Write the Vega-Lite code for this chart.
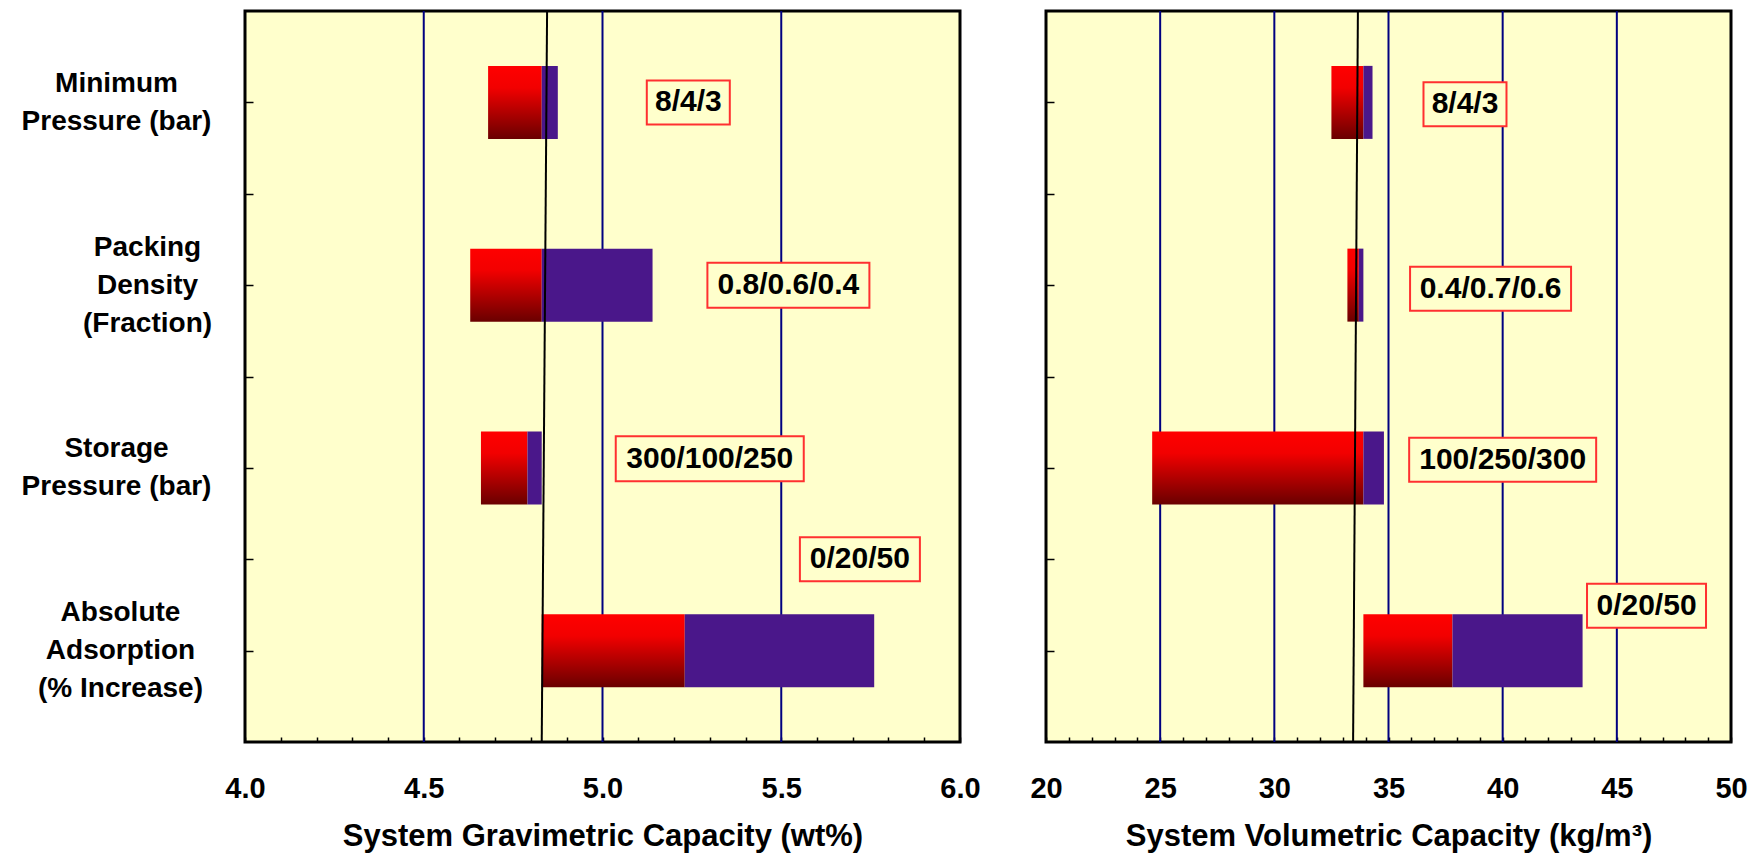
{
  "$schema": "https://vega.github.io/schema/vega-lite/v6.json",
  "background": "white",
  "padding": {"left": 19, "top": 8, "right": 5, "bottom": 5},
  "bounds": "flush",
  "spacing": 86,
  "resolve": {"scale": {"shape": "independent"}},
  "config": {
    "font": "Liberation Sans",
    "view": {"fill": "#FFFFCC", "stroke": "#000000", "strokeWidth": 3},
    "axis": {
      "labelFont": "Liberation Sans", "labelFontWeight": "bold", "labelColor": "#000000",
      "titleFont": "Liberation Sans", "titleFontWeight": "bold", "titleColor": "#000000",
      "domain": false, "grid": false, "tickColor": "#000000", "tickWidth": 1.5,
      "labelFlush": false, "labelOverlap": false, "labelLimit": 0
    }
  },
  "datasets": {
    "gravGrid": [{"x": 4.5, "y": 0, "y2": 8}, {"x": 5.0, "y": 0, "y2": 8}, {"x": 5.5, "y": 0, "y2": 8}],
    "gravBars": [
      {"factor": "Minimum Pressure", "seg": "red", "x": 4.68, "x2": 4.83, "y": 1},
      {"factor": "Minimum Pressure", "seg": "purple", "x": 4.83, "x2": 4.875, "y": 1},
      {"factor": "Packing Density", "seg": "red", "x": 4.63, "x2": 4.83, "y": 3},
      {"factor": "Packing Density", "seg": "purple", "x": 4.83, "x2": 5.14, "y": 3},
      {"factor": "Storage Pressure", "seg": "red", "x": 4.66, "x2": 4.79, "y": 5},
      {"factor": "Storage Pressure", "seg": "purple", "x": 4.79, "x2": 4.83, "y": 5},
      {"factor": "Absolute Adsorption", "seg": "red", "x": 4.83, "x2": 5.23, "y": 7},
      {"factor": "Absolute Adsorption", "seg": "purple", "x": 5.23, "x2": 5.76, "y": 7}
    ],
    "gravBase": [{"x": 4.845, "y": 0, "x2": 4.83, "y2": 8}],
    "gravLabels": [
      {"label": "8/4/3", "x": 5.24, "y": 1.0},
      {"label": "0.8/0.6/0.4", "x": 5.52, "y": 3.0},
      {"label": "300/100/250", "x": 5.30, "y": 4.9},
      {"label": "0/20/50", "x": 5.72, "y": 6.0}
    ],
    "volGrid": [{"x": 25, "y": 0, "y2": 8}, {"x": 30, "y": 0, "y2": 8}, {"x": 35, "y": 0, "y2": 8}, {"x": 40, "y": 0, "y2": 8}, {"x": 45, "y": 0, "y2": 8}],
    "volBars": [
      {"factor": "Minimum Pressure", "seg": "red", "x": 32.5, "x2": 33.9, "y": 1},
      {"factor": "Minimum Pressure", "seg": "purple", "x": 33.9, "x2": 34.3, "y": 1},
      {"factor": "Packing Density", "seg": "red", "x": 33.2, "x2": 33.7, "y": 3},
      {"factor": "Packing Density", "seg": "purple", "x": 33.7, "x2": 33.9, "y": 3},
      {"factor": "Storage Pressure", "seg": "red", "x": 24.65, "x2": 33.9, "y": 5},
      {"factor": "Storage Pressure", "seg": "purple", "x": 33.9, "x2": 34.8, "y": 5},
      {"factor": "Absolute Adsorption", "seg": "red", "x": 33.9, "x2": 37.8, "y": 7},
      {"factor": "Absolute Adsorption", "seg": "purple", "x": 37.8, "x2": 43.5, "y": 7}
    ],
    "volBase": [{"x": 33.66, "y": 0, "x2": 33.45, "y2": 8}],
    "volLabels": [
      {"label": "8/4/3", "x": 38.35, "y": 1.02},
      {"label": "0.4/0.7/0.6", "x": 39.47, "y": 3.04},
      {"label": "100/250/300", "x": 40.0, "y": 4.91},
      {"label": "0/20/50", "x": 46.3, "y": 6.51}
    ]
  },
  "hconcat": [
    {
      "width": 715,
      "height": 731,
      "encoding": {
        "x": {
          "field": "x", "type": "quantitative",
          "scale": {"domain": [4, 6], "nice": false, "zero": false, "padding": 0},
          "axis": {
            "title": "System Gravimetric Capacity (wt%)",
            "values": [4.0, 4.1, 4.2, 4.3, 4.4, 4.5, 4.6, 4.7, 4.8, 4.9, 5.0, 5.1, 5.2, 5.3, 5.4, 5.5, 5.6, 5.7, 5.8, 5.9, 6.0],
            "labelExpr": "abs(datum.value*2 - round(datum.value*2)) < 0.001 ? format(datum.value, '.1f') : ''",
            "tickSize": -5, "labelPadding": 37, "labelFontSize": 29, "titleFontSize": 31, "titlePadding": 18
          }
        },
        "y": {
          "field": "y", "type": "quantitative",
          "scale": {"domain": [0, 8], "nice": false, "zero": false, "reverse": true, "padding": 0},
          "axis": {
            "title": null,
            "values": [1, 2, 3, 4, 5, 6, 7],
            "labelExpr": "datum.value == 1 ? ['Minimum', 'Pressure (bar)'] : datum.value == 3 ? ['Packing', 'Density', '(Fraction)'] : datum.value == 5 ? ['Storage', 'Pressure (bar)'] : datum.value == 7 ? ['Absolute', 'Adsorption\u00a0\u00a0\u00a0\u00a0', '(% Increase)'] : ''",
            "tickSize": -8, "labelAlign": "center", "labelBaseline": "middle",
            "labelPadding": {"condition": [{"test": "datum.value == 3", "value": 106}, {"test": "datum.value == 7", "value": 133}], "value": 137},
            "labelOffset": {"condition": {"test": "datum.value == 3 || datum.value == 7", "value": -38}, "value": -19},
            "labelFontSize": 28, "labelLineHeight": 38
          }
        }
      },
      "layer": [
        {
          "data": {"name": "gravGrid"},
          "mark": {"type": "rule", "color": "#000080", "strokeWidth": 2},
          "encoding": {"y2": {"field": "y2"}}
        },
        {
          "data": {"name": "gravBars"},
          "transform": [{"filter": "datum.seg == 'red'"}],
          "mark": {"type": "bar", "size": 73, "color": {"gradient": "linear", "x1": 0, "y1": 0, "x2": 0, "y2": 1, "stops": [{"offset": 0, "color": "#ff0000"}, {"offset": 0.3, "color": "#f20000"}, {"offset": 1, "color": "#6a0000"}]}},
          "encoding": {"x2": {"field": "x2"}}
        },
        {
          "data": {"name": "gravBars"},
          "transform": [{"filter": "datum.seg == 'purple'"}],
          "mark": {"type": "bar", "size": 73, "color": "#4a178a"},
          "encoding": {"x2": {"field": "x2"}}
        },
        {
          "data": {"name": "gravBase"},
          "mark": {"type": "rule", "color": "#000000", "strokeWidth": 2},
          "encoding": {"x2": {"field": "x2"}, "y2": {"field": "y2"}}
        },
        {
          "data": {"name": "gravLabels"},
          "mark": {"type": "point", "filled": true, "size": 4, "fill": "#FFFFCC", "stroke": "#ff3030", "strokeWidth": 2, "opacity": 1},
          "encoding": {
            "shape": {"field": "label", "type": "nominal", "legend": null,
              "scale": {"domain": ["8/4/3", "0.8/0.6/0.4", "300/100/250", "0/20/50"],
                "range": ["M-41.5,-22H41.5V22H-41.5Z", "M-81,-22.5H81V22.5H-81Z", "M-94,-22.5H94V22.5H-94Z", "M-60,-22H60V22H-60Z"]}}
          }
        },
        {
          "data": {"name": "gravLabels"},
          "mark": {"type": "text", "fontSize": 30, "fontWeight": "bold", "font": "Liberation Sans", "align": "center", "baseline": "middle", "color": "#000000"},
          "encoding": {"text": {"field": "label"}}
        }
      ]
    },
    {
      "width": 685,
      "height": 731,
      "encoding": {
        "x": {
          "field": "x", "type": "quantitative",
          "scale": {"domain": [20, 50], "nice": false, "zero": false, "padding": 0},
          "axis": {
            "title": "System Volumetric Capacity (kg/m³)",
            "values": [20, 21, 22, 23, 24, 25, 26, 27, 28, 29, 30, 31, 32, 33, 34, 35, 36, 37, 38, 39, 40, 41, 42, 43, 44, 45, 46, 47, 48, 49, 50],
            "labelExpr": "datum.value % 5 == 0 ? format(datum.value, 'd') : ''",
            "tickSize": -5, "labelPadding": 37, "labelFontSize": 29, "titleFontSize": 31, "titlePadding": 18
          }
        },
        "y": {
          "field": "y", "type": "quantitative",
          "scale": {"domain": [0, 8], "nice": false, "zero": false, "reverse": true, "padding": 0},
          "axis": {
            "title": null,
            "values": [1, 2, 3, 4, 5, 6, 7],
            "labels": false,
            "tickSize": -8
          }
        }
      },
      "layer": [
        {
          "data": {"name": "volGrid"},
          "mark": {"type": "rule", "color": "#000080", "strokeWidth": 2},
          "encoding": {"y2": {"field": "y2"}}
        },
        {
          "data": {"name": "volBars"},
          "transform": [{"filter": "datum.seg == 'red'"}],
          "mark": {"type": "bar", "size": 73, "color": {"gradient": "linear", "x1": 0, "y1": 0, "x2": 0, "y2": 1, "stops": [{"offset": 0, "color": "#ff0000"}, {"offset": 0.3, "color": "#f20000"}, {"offset": 1, "color": "#6a0000"}]}},
          "encoding": {"x2": {"field": "x2"}}
        },
        {
          "data": {"name": "volBars"},
          "transform": [{"filter": "datum.seg == 'purple'"}],
          "mark": {"type": "bar", "size": 73, "color": "#4a178a"},
          "encoding": {"x2": {"field": "x2"}}
        },
        {
          "data": {"name": "volBase"},
          "mark": {"type": "rule", "color": "#000000", "strokeWidth": 2},
          "encoding": {"x2": {"field": "x2"}, "y2": {"field": "y2"}}
        },
        {
          "data": {"name": "volLabels"},
          "mark": {"type": "point", "filled": true, "size": 4, "fill": "#FFFFCC", "stroke": "#ff3030", "strokeWidth": 2, "opacity": 1},
          "encoding": {
            "shape": {"field": "label", "type": "nominal", "legend": null,
              "scale": {"domain": ["8/4/3", "0.4/0.7/0.6", "100/250/300", "0/20/50"],
                "range": ["M-41.5,-22H41.5V22H-41.5Z", "M-80.5,-22H80.5V22H-80.5Z", "M-93.5,-22H93.5V22H-93.5Z", "M-59.5,-22H59.5V22H-59.5Z"]}}
          }
        },
        {
          "data": {"name": "volLabels"},
          "mark": {"type": "text", "fontSize": 30, "fontWeight": "bold", "font": "Liberation Sans", "align": "center", "baseline": "middle", "color": "#000000"},
          "encoding": {"text": {"field": "label"}}
        }
      ]
    }
  ]
}
